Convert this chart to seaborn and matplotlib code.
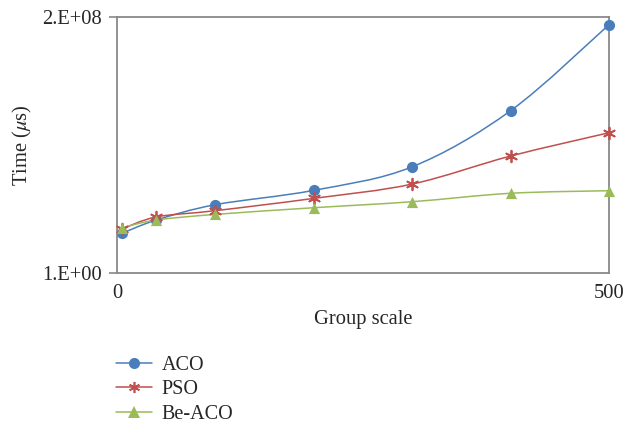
import numpy as np
import pandas as pd
import matplotlib
matplotlib.use("Agg")
import matplotlib.pyplot as plt
from matplotlib.path import Path
from matplotlib.patches import PathPatch
from matplotlib.lines import Line2D
import seaborn as sns

# Group scale values and measured times (microseconds)
group_scale = [5, 40, 100, 200, 300, 400, 500]
aco = [3.10e7, 4.14e7, 5.34e7, 6.46e7, 8.30e7, 1.268e8, 1.94e8]
pso = [3.44e7, 4.38e7, 4.87e7, 5.83e7, 6.95e7, 9.14e7, 1.096e8]
be_aco = [3.54e7, 4.14e7, 4.58e7, 5.10e7, 5.57e7, 6.23e7, 6.43e7]

series_names = ["ACO", "PSO", "Be-ACO"]
series_values = [aco, pso, be_aco]
colors = ["#4A7EBB", "#C0504D", "#9BBB59"]
markers = ["o", (6, 2, 0), "^"]

y_ticks = [1, 2e8]
y_tick_labels = ["1.E+00", "2.E+08"]
x_ticks = [0, 500]
x_tick_labels = ["0", "500"]

sns.set_theme(style="white")
plt.rcParams["font.family"] = ["Liberation Serif", "DejaVu Serif"]
plt.rcParams["mathtext.fontset"] = "stix"
FS = 14.8

df = pd.concat(
    [pd.DataFrame({"Group scale": group_scale, "Time": v, "Algorithm": n})
     for n, v in zip(series_names, series_values)],
    ignore_index=True,
)

fig = plt.figure(figsize=(6.24, 4.25), dpi=100)
ax = fig.add_axes([0.1875, 0.3576, 0.7885, 0.6024])


def smooth_path(xs, ys):
    """Cubic Bezier path through the points (Catmull-Rom style tangents)."""
    pts = np.column_stack([xs, ys]).astype(float)
    n = len(pts)
    verts = [pts[0]]
    codes = [Path.MOVETO]
    for i in range(n - 1):
        p0 = pts[i - 1] if i > 0 else pts[i]
        p1 = pts[i]
        p2 = pts[i + 1]
        p3 = pts[i + 2] if i + 2 < n else pts[i + 1]
        c1 = p1 + (p2 - p0) / 6.0
        c2 = p2 - (p3 - p1) / 6.0
        verts += [c1, c2, p2]
        codes += [Path.CURVE4] * 3
    return Path(verts, codes)


for name, color, marker in zip(series_names, colors, markers):
    sub = df[df["Algorithm"] == name]
    patch = PathPatch(smooth_path(sub["Group scale"], sub["Time"]),
                      facecolor="none", edgecolor=color, lw=1.1, zorder=2)
    ax.add_patch(patch)
    is_line_marker = name == "PSO"
    sns.scatterplot(data=sub, x="Group scale", y="Time", color=color,
                    marker=marker, s=70 if is_line_marker else 65,
                    linewidth=1.3 if is_line_marker else 0,
                    edgecolor=color, ax=ax, legend=False, zorder=3,
                    clip_on=False)

ax.set_xlim(0, 500)
ax.set_ylim(1, 2e8)
ax.set_xticks(x_ticks)
ax.set_xticklabels(x_tick_labels)
ax.set_yticks(y_ticks)
ax.set_yticklabels(y_tick_labels)
ax.tick_params(axis="y", which="major", length=6, width=1.2, color="#898989",
               direction="out", left=True, labelsize=FS, pad=5)
ax.tick_params(axis="x", which="major", length=0, labelsize=FS, pad=8)
ax.set_xlabel("Group scale", fontsize=FS, labelpad=5)
ax.set_ylabel(r"Time ($\mu$s)", fontsize=FS, labelpad=6)

for sp in ax.spines.values():
    sp.set_color("#898989")
    sp.set_linewidth(1.3)

handles = [Line2D([0], [0], color=c, lw=1.1, marker=m, markersize=8,
                  markeredgecolor=c, markerfacecolor=c,
                  markeredgewidth=1.2 if n == "PSO" else 0)
           for n, c, m in zip(series_names, colors, markers)]
fig.legend(handles, series_names, loc="upper left",
           bbox_to_anchor=(0.170, 0.186), frameon=False,
           fontsize=14.5, handlelength=1.8, handletextpad=0.45,
           labelspacing=0.26, borderpad=0)

fig.savefig("out.png", dpi=100)
